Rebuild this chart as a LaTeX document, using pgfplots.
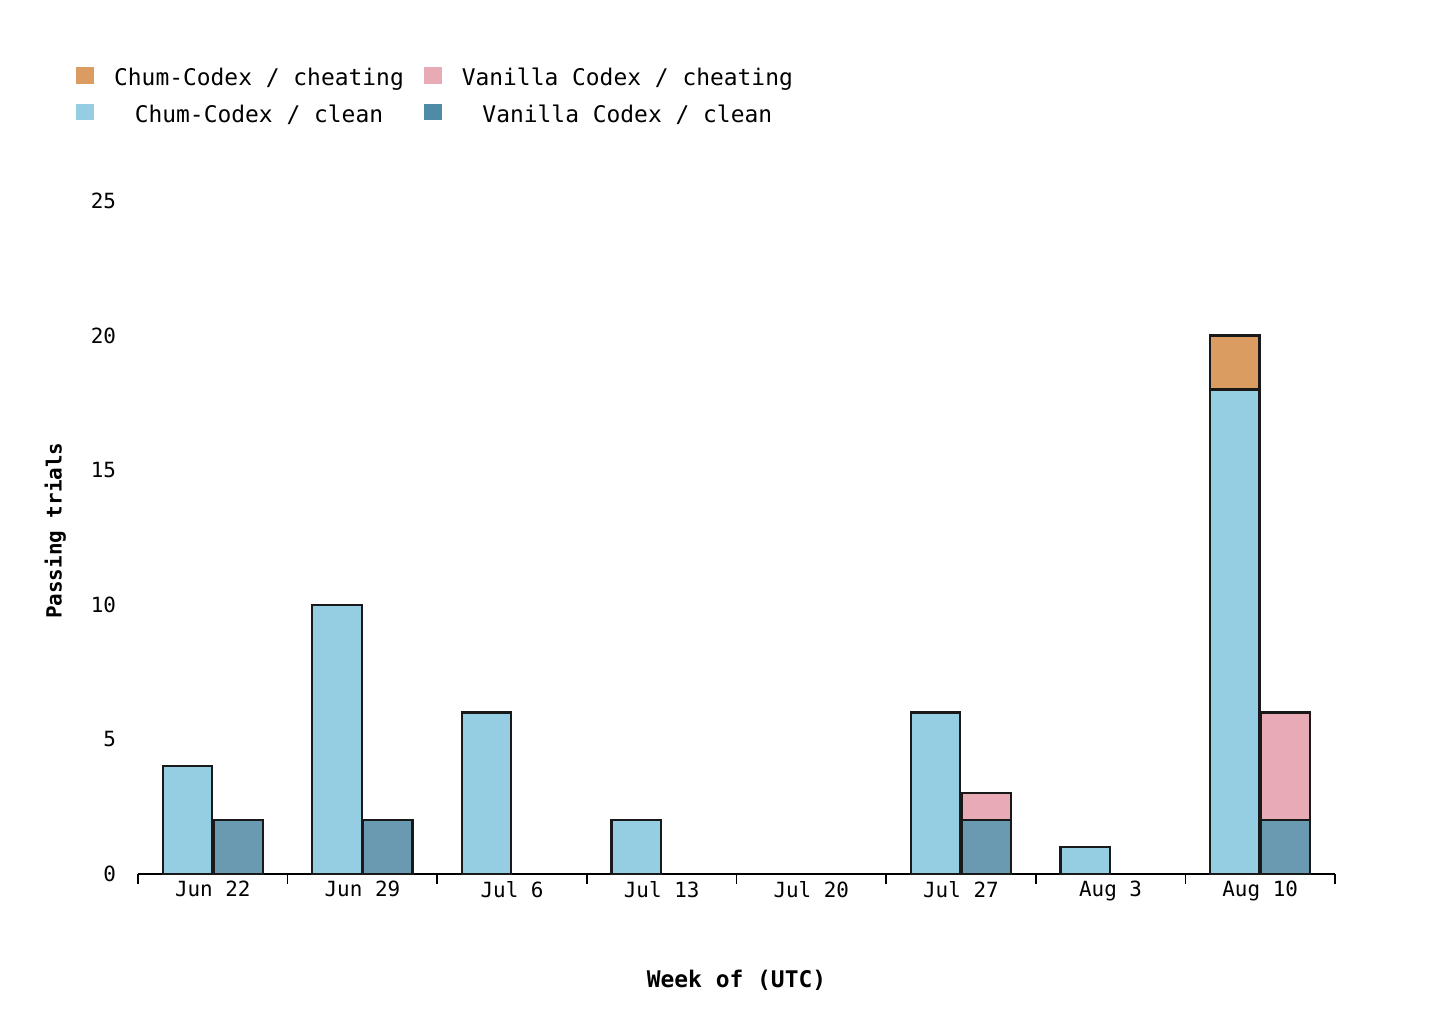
\documentclass[border=0pt]{standalone}
\usepackage{pgfplots}
\pgfplotsset{compat=1.18}
\usepackage{fontspec}
\setmainfont{DejaVu Sans Mono}
\definecolor{cclean}{HTML}{95CDE3}
\definecolor{vclean}{HTML}{6A9AB2}
\definecolor{ccheat}{HTML}{DA9C60}
\definecolor{vcheat}{HTML}{E8ABB6}
\definecolor{vleg}{HTML}{4E8BA6}
\begin{document}
\begin{tikzpicture}[x=1bp,y=1bp]
\begin{axis}[name=ax,
 scale only axis, width=598.5bp, height=336.5bp,
 xmin=0, xmax=8, ymin=0, ymax=25,
 axis y line=none, axis x line*=bottom,
 xtick={0,...,8}, xticklabels={},
 extra x ticks={0.5,1.5,2.5,3.5,4.5,5.5,6.5,7.5},
 extra x tick labels={Jun 22,Jun 29,Jul 6,Jul 13,Jul 20,Jul 27,Aug 3,Aug 10},
 extra x tick style={major tick length=0pt, grid=none},
 x tick style={black, line width=0.8pt}, major tick length=5bp,
 tick align=outside,
 x axis line style={line width=0.8pt, -},
 ytick={0,5,10,15,20,25}, ymajorgrids, grid style={gray!30, line width=0.6pt},
 /pgf/number format/assume math mode=true,
 font=\fontsize{10.5}{12}\selectfont,
 clip=false,
 ybar, bar width=0.33,
 legend columns=2,
 legend style={draw=none, at={(-0.057,1.21)}, anchor=north west, font=\fontsize{11.5}{14}\selectfont, row sep=4bp, column sep=8bp},
 legend image code/.code={\fill[#1,draw=none] (0,-0.5ex) rectangle (9bp,1.0ex);},
]
\pgfplotsset{every axis plot/.append style={draw=black!90, line width=1.1pt}}
\addplot[fill=ccheat, bar shift=-0.17] coordinates {(7.5,20)};
\addlegendentry{Chum-Codex / cheating}
\addplot[fill=vcheat, bar shift=0.17] coordinates {(5.5,3) (7.5,6)};
\addlegendentry{Vanilla Codex / cheating}
\addplot[fill=cclean, bar shift=-0.17] coordinates {(0.5,4) (1.5,10) (2.5,6) (3.5,2) (5.5,6) (6.5,1) (7.5,18)};
\addlegendentry{Chum-Codex / clean}
\addplot[fill=vclean, bar shift=0.17, legend image post style={fill=vleg}] coordinates {(0.5,2) (1.5,2) (5.5,2) (7.5,2)};
\addlegendentry{Vanilla Codex / clean}
\node[anchor=east] at (axis cs:-0.1,0) {0};
\node[anchor=east] at (axis cs:-0.1,5) {5};
\node[anchor=east] at (axis cs:-0.1,10) {10};
\node[anchor=east] at (axis cs:-0.1,15) {15};
\node[anchor=east] at (axis cs:-0.1,20) {20};
\node[anchor=east] at (axis cs:-0.1,25) {25};
\node[rotate=90, font=\bfseries\fontsize{10.5}{12}\selectfont] at (rel axis cs:-0.069,0.51) {Passing trials};
\node[font=\bfseries\fontsize{11.5}{14}\selectfont] at (rel axis cs:0.5,-0.158) {Week of (UTC)};
\end{axis}
\path (ax.south west) ++(-69bp,-74bp) rectangle ++(720.5bp,511bp);
\end{tikzpicture}
\end{document}
